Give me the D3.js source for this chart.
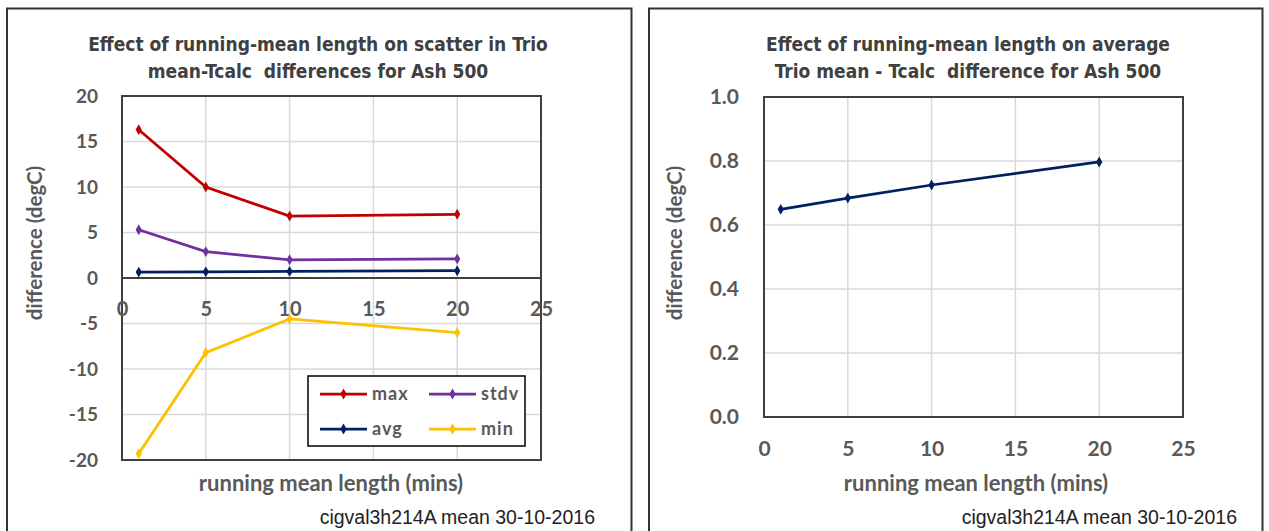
<!DOCTYPE html>
<html>
<head>
<meta charset="utf-8">
<script src="https://cdn.jsdelivr.net/npm/d3@7"></script>
<style>
  body { margin: 0; background: #fff; }
  svg { display: block; }
  text { white-space: pre; }
</style>
</head>
<body>
<svg id="chart" width="1269" height="531"></svg>
<script>
// ---- data ----
const lengths = [1, 5, 10, 20];
const maxVals = [16.3, 10.0, 6.8, 7.0];
const stdvVals = [5.3, 2.9, 2.0, 2.1];
const avgVals = [0.65, 0.68, 0.72, 0.80];
const minVals = [-19.3, -8.2, -4.5, -6.0];
const avgRight = [0.649, 0.684, 0.725, 0.797];
const xTicks = [0, 5, 10, 15, 20, 25];
const yTicksLeft = [-20, -15, -10, -5, 0, 5, 10, 15, 20];
const yTicksRight = [0, 0.2, 0.4, 0.6, 0.8, 1.0];
const seriesNames = ["max", "stdv", "avg", "min"];
const titleLeft = ["Effect of running-mean length on scatter in Trio", "mean-Tcalc  differences for Ash 500"];
const titleRight = ["Effect of running-mean length on average", "Trio mean - Tcalc  difference for Ash 500"];
const yLabel = "difference (degC)";
const xLabel = "running mean length (mins)";
const footer = "cigval3h214A mean 30-10-2016";

const colors = { max: "#C00000", stdv: "#7030A0", avg: "#002060", min: "#FFC000" };
const seriesData = { max: maxVals, stdv: stdvVals, avg: avgVals, min: minVals };

const svg = d3.select("#chart");
const tickFont = "Lato, 'Open Sans', sans-serif";
const titleFont = "'Liberation Sans Narrow', 'DejaVu Sans Condensed', sans-serif";
const grey = "#595959";

// panel borders
svg.append("path").attr("d", "M7,540 V8.5 H631.5 V540").attr("fill", "none").attr("stroke", "#333").attr("stroke-width", 2);
svg.append("path").attr("d", "M649,540 V8.5 H1262.5 V540").attr("fill", "none").attr("stroke", "#333").attr("stroke-width", 2);

function diamond(g, x, y, color) {
  g.append("path").attr("d", d3.symbol(d3.symbolDiamond, 34)()).attr("transform", `translate(${x},${y})`).attr("fill", color);
}

function drawTitle(lines, cx) {
  lines.forEach((t, i) => {
    svg.append("text").attr("x", cx).attr("y", 51 + i * 27).attr("text-anchor", "middle")
      .attr("font-family", titleFont)
      .attr("font-weight", "bold").attr("font-size", 19).attr("fill", "#404040").text(t);
  });
}

// ================= LEFT CHART =================
{
  const L = 122, R = 541, T = 96, B = 460;
  const x = d3.scaleLinear().domain([0, 25]).range([L, R]);
  const y = d3.scaleLinear().domain([-20, 20]).range([B, T]);
  const g = svg.append("g");

  drawTitle(titleLeft, 318);

  g.selectAll(".hg").data(yTicksLeft).enter().append("line")
    .attr("x1", L).attr("x2", R).attr("y1", d => y(d)).attr("y2", d => y(d))
    .attr("stroke", "#D9D9D9").attr("stroke-width", 1.5);
  g.selectAll(".vg").data(xTicks).enter().append("line")
    .attr("x1", d => x(d)).attr("x2", d => x(d)).attr("y1", T).attr("y2", B)
    .attr("stroke", "#D9D9D9").attr("stroke-width", 1.5);

  g.append("rect").attr("x", L).attr("y", T).attr("width", R - L).attr("height", B - T)
    .attr("fill", "none").attr("stroke", "#404040").attr("stroke-width", 2);
  g.append("line").attr("x1", L).attr("x2", R).attr("y1", y(0)).attr("y2", y(0))
    .attr("stroke", "#404040").attr("stroke-width", 2);

  const ya = d3.axisLeft(y).tickValues(yTicksLeft).tickFormat(d => String(d)).tickSize(0).tickPadding(24);
  const yg = g.append("g").attr("transform", `translate(${L},0)`).call(ya);
  yg.select(".domain").remove();
  yg.selectAll("text").attr("font-family", tickFont).attr("font-weight", "bold").attr("font-size", 19).attr("fill", grey);

  const xa = d3.axisBottom(x).tickValues(xTicks).tickFormat(d => String(d)).tickSize(0).tickPadding(24);
  const xg = g.append("g").attr("transform", `translate(0,${y(0)})`).call(xa);
  xg.select(".domain").remove();
  xg.selectAll("text").attr("font-family", tickFont).attr("font-weight", "bold").attr("font-size", 20).attr("fill", grey);

  const line = d3.line().x((d, i) => x(lengths[i])).y(d => y(d));
  seriesNames.forEach(name => {
    g.append("path").datum(seriesData[name]).attr("d", line).attr("fill", "none")
      .attr("stroke", colors[name]).attr("stroke-width", 2.75);
    seriesData[name].forEach((v, i) => diamond(g, x(lengths[i]), y(v), colors[name]));
  });

  const lg = g.append("g");
  lg.append("rect").attr("x", 308).attr("y", 376).attr("width", 217).attr("height", 70)
    .attr("fill", "#fff").attr("stroke", "#000").attr("stroke-width", 1.5);
  const legPos = [[320, 394], [429, 394], [320, 429], [429, 429]];
  const legOrder = ["max", "stdv", "avg", "min"];
  legOrder.forEach((name, i) => {
    const [lx, ly] = legPos[i];
    lg.append("line").attr("x1", lx).attr("x2", lx + 47).attr("y1", ly).attr("y2", ly)
      .attr("stroke", colors[name]).attr("stroke-width", 2.75);
    diamond(lg, lx + 23.5, ly, colors[name]);
    lg.append("text").attr("x", lx + 52).attr("y", ly + 6).attr("font-family", tickFont)
      .attr("font-weight", "bold").attr("font-size", 18).attr("letter-spacing", 1).attr("fill", grey).text(name);
  });

  svg.append("text").attr("transform", `translate(42,${243}) rotate(-90)`).attr("text-anchor", "middle")
    .attr("font-family", tickFont).attr("font-weight", "bold").attr("font-size", 20.5).attr("fill", grey).text(yLabel);
  svg.append("text").attr("x", 331).attr("y", 491).attr("text-anchor", "middle")
    .attr("font-family", tickFont).attr("font-weight", "bold").attr("font-size", 22).attr("fill", grey).text(xLabel);
  svg.append("text").attr("x", 595).attr("y", 524).attr("text-anchor", "end")
    .attr("font-family", "'Liberation Sans', Arial, sans-serif").attr("font-size", 19.5).attr("fill", "#222").text(footer);
}

// ================= RIGHT CHART =================
{
  const L = 764, R = 1183, T = 97, B = 417;
  const x = d3.scaleLinear().domain([0, 25]).range([L, R]);
  const y = d3.scaleLinear().domain([0, 1]).range([B, T]);
  const g = svg.append("g");

  drawTitle(titleRight, 968);

  g.selectAll(".hg").data(yTicksRight).enter().append("line")
    .attr("x1", L).attr("x2", R).attr("y1", d => y(d)).attr("y2", d => y(d))
    .attr("stroke", "#D9D9D9").attr("stroke-width", 1.5);
  g.selectAll(".vg").data(xTicks).enter().append("line")
    .attr("x1", d => x(d)).attr("x2", d => x(d)).attr("y1", T).attr("y2", B)
    .attr("stroke", "#D9D9D9").attr("stroke-width", 1.5);
  g.append("rect").attr("x", L).attr("y", T).attr("width", R - L).attr("height", B - T)
    .attr("fill", "none").attr("stroke", "#404040").attr("stroke-width", 2);

  const ya = d3.axisLeft(y).tickValues(yTicksRight).tickFormat(d3.format(".1f")).tickSize(0).tickPadding(25);
  const yg = g.append("g").attr("transform", `translate(${L},0)`).call(ya);
  yg.select(".domain").remove();
  yg.selectAll("text").attr("font-family", tickFont).attr("font-weight", "bold").attr("font-size", 21).attr("fill", grey);

  const xa = d3.axisBottom(x).tickValues(xTicks).tickFormat(d => String(d)).tickSize(0).tickPadding(24);
  const xg = g.append("g").attr("transform", `translate(0,${B})`).call(xa);
  xg.select(".domain").remove();
  xg.selectAll("text").attr("font-family", tickFont).attr("font-weight", "bold").attr("font-size", 21).attr("fill", grey);

  const line = d3.line().x((d, i) => x(lengths[i])).y(d => y(d));
  g.append("path").datum(avgRight).attr("d", line).attr("fill", "none")
    .attr("stroke", colors.avg).attr("stroke-width", 2.75);
  avgRight.forEach((v, i) => diamond(g, x(lengths[i]), y(v), colors.avg));

  svg.append("text").attr("transform", `translate(682,${243}) rotate(-90)`).attr("text-anchor", "middle")
    .attr("font-family", tickFont).attr("font-weight", "bold").attr("font-size", 20.5).attr("fill", grey).text(yLabel);
  svg.append("text").attr("x", 976).attr("y", 491).attr("text-anchor", "middle")
    .attr("font-family", tickFont).attr("font-weight", "bold").attr("font-size", 22).attr("fill", grey).text(xLabel);
  svg.append("text").attr("x", 1237).attr("y", 524).attr("text-anchor", "end")
    .attr("font-family", "'Liberation Sans', Arial, sans-serif").attr("font-size", 19.5).attr("fill", "#222").text(footer);
}
</script>
</body>
</html>
